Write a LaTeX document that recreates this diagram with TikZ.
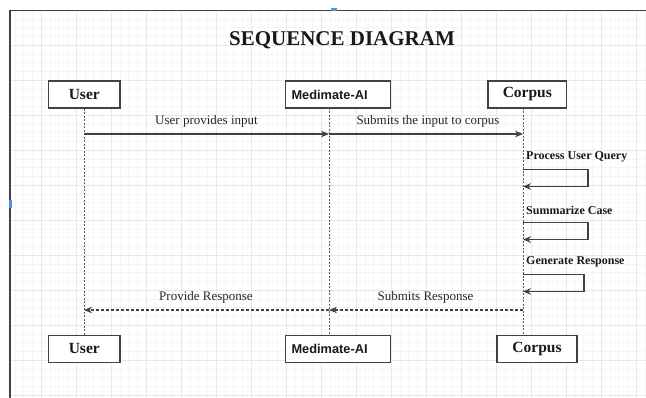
\documentclass[tikz,border=0pt]{standalone}
\usepackage{fontspec}
\setmainfont{Liberation Serif}
\newfontfamily\arialfont{Liberation Sans}
\usetikzlibrary{arrows.meta}
\definecolor{gridmajor}{RGB}{232,232,235}
\definecolor{gridminor}{RGB}{246,246,248}
\definecolor{inkgray}{RGB}{65,65,65}
\definecolor{handle}{RGB}{90,140,220}

\begin{document}
\begin{tikzpicture}[x=1pt,y=-1pt,
  actor/.style={draw=inkgray, line width=1.3pt, fill=white, minimum height=27pt,
    inner sep=0pt, text=black!90, font=\fontsize{15.5}{17}\selectfont\bfseries},
  aibox/.style={actor, inner xsep=6pt, text width=93pt, align=left,
    font=\arialfont\fontsize{12.8}{15}\selectfont\bfseries},
  lifeline/.style={inkgray!85, line width=0.7pt, dash pattern=on 2pt off 1.5pt},
  msg/.style={-{Stealth[length=8pt,width=6.5pt]}, line width=1.1pt, inkgray},
  retmsg/.style={msg, dash pattern=on 3pt off 2pt},
  msglabel/.style={inner sep=0pt, text=black!85, font=\fontsize{13}{15}\selectfont},
  calllabel/.style={inner sep=0pt, anchor=west, text=black!90, font=\fontsize{12}{14}\selectfont\bfseries}]
  \useasboundingbox (0,0) rectangle (646,398);
  % Draw background grid
  \begin{scope}
    \clip (10,10) rectangle (646,398);
    \foreach \k in {0,...,73} {
      \draw[gridminor, line width=0.4pt] ({6+8.75*\k},10) -- ({6+8.75*\k},398);
    }
    \foreach \k in {0,...,44} {
      \draw[gridminor, line width=0.4pt] (10,{10+8.75*\k}) -- (646,{10+8.75*\k});
    }
    \foreach \k in {0,...,18} {
      \draw[gridmajor, line width=0.8pt] ({6+35*\k},10) -- ({6+35*\k},398);
    }
    \foreach \k in {0,...,11} {
      \draw[gridmajor, line width=0.8pt] (10,{10+35*\k}) -- (646,{10+35*\k});
    }
  \end{scope}
  % Draw frame
  \draw[inkgray, line width=0.8pt] (10,10) -- (646,10);
  \draw[inkgray, line width=2pt] (10,10) -- (10,398);
  \fill[handle] (331,8.5) rectangle (337,11);
  \fill[handle] (8.5,200) rectangle (12,208);
  % Title
  \node[inner sep=0pt, font=\fontsize{21}{24}\selectfont\bfseries, text=black!90] (title) at (342,40) {SEQUENCE DIAGRAM};
  % Participants
  \node[actor, minimum width=71.5pt] (userTop) at (84.3,94.5) {User};
  \node[aibox] (aiTop) at (338,94.5) {Medimate-AI};
  \node[actor, minimum width=78.5pt] (corpusTop) at (527.3,94.5) {Corpus};
  \node[actor, minimum width=71.5pt] (userBot) at (84.3,349) {User};
  \node[aibox] (aiBot) at (338,349) {Medimate-AI};
  \node[actor, minimum width=80pt] (corpusBot) at (537,349) {Corpus};
  % Lifelines
  \coordinate (aiT) at (329,108);
  \coordinate (aiB) at (329,335.5);
  \coordinate (corT) at (523,108);
  \coordinate (corB) at (523,335.5);
  \draw[lifeline] (userTop.south) -- (userBot.north);
  \draw[lifeline] (aiT) -- (aiB);
  \draw[lifeline] (corT) -- (corB);
  % Messages
  \coordinate (u1) at (84,134);
  \coordinate (a1) at (329,134);
  \coordinate (c1) at (523,134);
  \draw[msg] (u1) -- (a1);
  \draw[msg] (a1) -- (c1);
  \node[msglabel] (lblInput) at (206.5,121) {User provides input};
  \node[msglabel] (lblCorpus) at (428,121) {Submits the input to corpus};
  % Self calls on corpus
  \foreach \y/\w/\t [count=\i] in {157/588/Process User Query, 210/588/Summarize Case, 262/584/Generate Response} {
    \node[calllabel] (call\i) at (526,\y) {\t};
    \coordinate (s\i) at (523,\y+12.5);
    \draw[msg] (s\i) -- ++(\w-523,0) -- ++(0,17) -- ++(523-\w,0);
  }
  % Responses
  \coordinate (c2) at (523,310);
  \coordinate (a2) at (329,310);
  \coordinate (u2) at (84,310);
  \draw[retmsg] (c2) -- (a2);
  \draw[retmsg] (a2) -- (u2);
  \node[msglabel] (lblSubmit) at (425.5,297) {Submits Response};
  \node[msglabel] (lblProvide) at (206,297) {Provide Response};
\end{tikzpicture}
\end{document}
